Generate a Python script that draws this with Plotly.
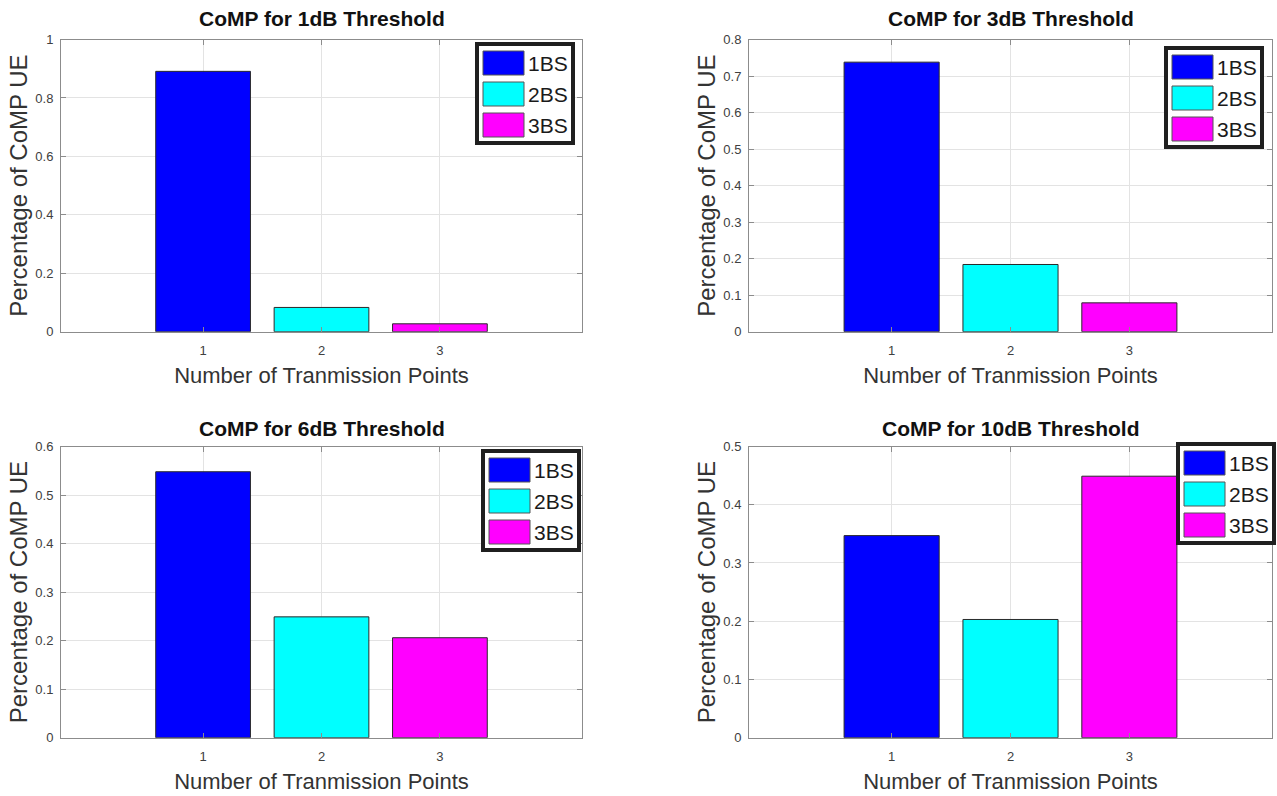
import plotly.graph_objects as go

# ---------------- data ----------------
categories = [1, 2, 3]
series_names = ["1BS", "2BS", "3BS"]
series_colors = ["#0000ff", "#00ffff", "#ff00ff"]
titles = ["CoMP for 1dB Threshold", "CoMP for 3dB Threshold",
          "CoMP for 6dB Threshold", "CoMP for 10dB Threshold"]
values_1dB = [0.891, 0.083, 0.027]
values_3dB = [0.738, 0.184, 0.079]
values_6dB = [0.548, 0.249, 0.206]
values_10dB = [0.347, 0.203, 0.449]
y_max = [1.0, 0.8, 0.6, 0.5]
y_dtick = [0.2, 0.1, 0.1, 0.1]
x_title = "Number of Tranmission Points"
y_title = "Percentage of CoMP UE"

panels = [values_1dB, values_3dB, values_6dB, values_10dB]

W, H = 1277, 796
# axes rectangles in pixels: (left, right, top, bottom)
rects = [(61, 582, 39.5, 331.7), (749, 1272, 39.5, 331.7),
         (61, 582, 446.5, 737.7), (749, 1272, 446.5, 737.7)]
# legend box top-left corners in pixels
legend_pos = [(477, 44), (1166, 48), (483, 451), (1178, 444)]
title_y = [18, 18, 428, 428]

FONT = "Liberation Sans, Arial, Helvetica, sans-serif"
TXT = "#262626"

fig = go.Figure()
layout = dict(width=W, height=H, margin=dict(l=0, r=0, t=0, b=0, pad=0),
              autosize=False,
              paper_bgcolor="white", plot_bgcolor="white",
              barmode="overlay", showlegend=False,
              font=dict(family=FONT, color=TXT))
shapes, annotations = [], []

for p, vals in enumerate(panels):
    ax = "" if p == 0 else str(p + 1)
    l, r, t, b = rects[p]
    for i, (name, col) in enumerate(zip(series_names, series_colors)):
        fig.add_trace(go.Bar(
            x=[categories[i]], y=[vals[i]], name=name, width=0.8,
            marker=dict(color=col, line=dict(color="#2a2a2a", width=1)),
            xaxis="x" + ax, yaxis="y" + ax, showlegend=False))
    common = dict(showline=True, linecolor="#8c8c8c", linewidth=1, mirror="ticks",
                  ticks="inside", ticklen=5, tickcolor="#8c8c8c",
                  showgrid=True, gridcolor="#e3e3e3", gridwidth=1, zeroline=False,
                  automargin=False,
                  tickfont=dict(size=13, color="#404040", family=FONT))
    layout["xaxis" + ax] = dict(
        common, domain=[l / W, r / W], anchor="y" + ax, range=[-0.2, 4.2],
        tickvals=categories, ticklabelstandoff=7,
        title=dict(text=x_title, font=dict(size=22, color="#333333"), standoff=10))
    layout["yaxis" + ax] = dict(
        common, domain=[1 - b / H, 1 - t / H], anchor="x" + ax,
        range=[0, y_max[p]], dtick=y_dtick[p], ticklabelstandoff=4,
        title=dict(text=y_title, font=dict(size=24, color="#333333"), standoff=0))
    # subplot title
    annotations.append(dict(text="<b>" + titles[p] + "</b>", xref="paper", yref="paper",
                            x=(l + r) / 2 / W, y=1 - title_y[p] / H, showarrow=False,
                            xanchor="center", yanchor="middle",
                            font=dict(size=21, color="#111111", family=FONT)))
    # legend box (MATLAB style, large swatches)
    lx, ly = legend_pos[p]
    shapes.append(dict(type="rect", xref="paper", yref="paper",
                       x0=lx / W, x1=(lx + 96) / W, y0=1 - ly / H, y1=1 - (ly + 99) / H,
                       line=dict(color="#1f1f1f", width=4), fillcolor="white", layer="above"))
    for i, (name, col) in enumerate(zip(series_names, series_colors)):
        top = ly + 7 + i * 31
        shapes.append(dict(type="rect", xref="paper", yref="paper",
                           x0=(lx + 6) / W, x1=(lx + 47) / W,
                           y0=1 - top / H, y1=1 - (top + 24) / H,
                           line=dict(color="#555555", width=1), fillcolor=col, layer="above"))
        annotations.append(dict(text=name, xref="paper", yref="paper",
                                x=(lx + 49) / W, y=1 - (top + 12.5) / H, showarrow=False,
                                xanchor="left", yanchor="middle",
                                font=dict(size=21, color="#1a1a1a", family=FONT)))

layout["shapes"] = shapes
layout["annotations"] = annotations
fig.update_layout(**layout)
fig.write_html("out.html", config={"displayModeBar": False},
               post_script="document.body.style.margin='0';document.body.style.overflow='hidden';")
